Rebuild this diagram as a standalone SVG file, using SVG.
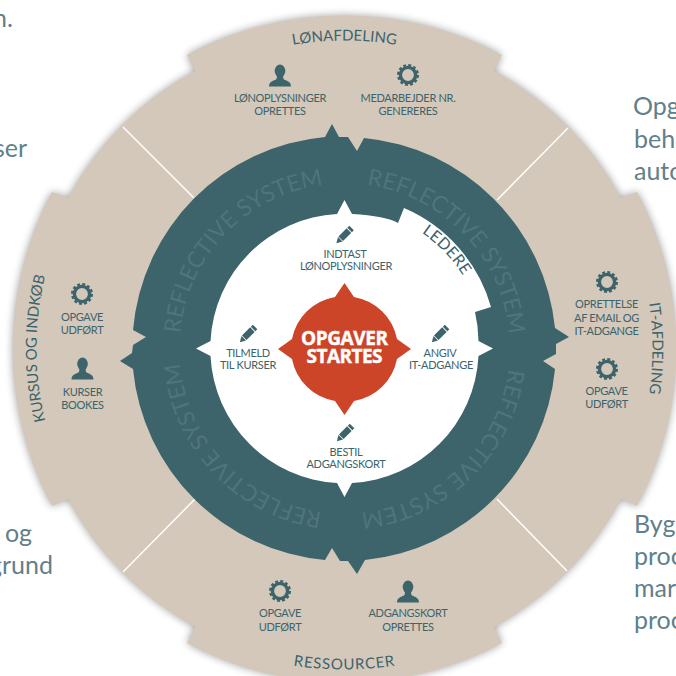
<svg xmlns="http://www.w3.org/2000/svg" width="676" height="676" viewBox="0 0 676 676">
<defs>
<style>
.bg{font:25px Lato,"Open Sans",sans-serif;fill:#62808a}
.l{font:11px Lato,"Open Sans",sans-serif;fill:#3d636b;text-anchor:middle;letter-spacing:-.3px}
.c{font:15px Lato,"Open Sans",sans-serif;fill:#3d636b;text-anchor:middle}
.r{font:23px Lato,"Open Sans",sans-serif;fill:#4f747c;text-anchor:middle}
.o{font:bold 19px "Open Sans",sans-serif;fill:#fff;stroke:#fff;stroke-width:.4;text-anchor:middle}
.ln{stroke:#fff;stroke-width:1.5;fill:none}
</style>
<filter id="sh" x="-10%" y="-10%" width="120%" height="120%"><feGaussianBlur stdDeviation="4.500"/></filter>
<path id="cw308" d="M344.500 656.500A308 308 0 1 1 344.510 656.500"/>
<path id="cw165" d="M344.500 183.500A165 165 0 1 1 344.490 183.500"/>
<path id="cw139" d="M344.500 209.500A139 139 0 1 1 344.490 209.500"/>
<path id="ccw321" d="M344.500 27.500A321 321 0 1 0 344.510 27.500"/>
<g id="gear" fill="none" stroke="#3d636b"><circle r="7.600" stroke-width="3.400"/><circle r="9.800" stroke-width="2.400" stroke-dasharray="2.900 2.230"/></g>
<g id="person" fill="#3d636b"><ellipse cx="0" cy="-5" rx="5.300" ry="6.500"/><path d="M-3 0L3 0L3.500 3C6 5 11 5 11 10.500L-11 10.500C-11 5 -6 5 -3.500 3Z"/></g>
<g id="pencil" fill="#3d636b" transform="rotate(45)"><rect x="-3.200" y="-10" width="6.400" height="2.800"/><rect x="-3.200" y="-6.200" width="6.400" height="11.500"/><path d="M-3.200 6L3.200 6L0 11.500Z"/></g>
</defs>
<g id="background-text">
<text x="-7" y="27" class="bg">n.</text>
<text x="-6" y="157" class="bg">ser</text>
<text x="633" y="115" class="bg">Opg</text><text x="634" y="148" class="bg">beh</text><text x="634" y="180" class="bg">auto</text>
<text x="634" y="533" class="bg">Byg</text><text x="634" y="565" class="bg">proc</text><text x="634" y="597" class="bg">mar</text><text x="634" y="629" class="bg">proc</text>
<text x="5" y="542" class="bg">og</text><text x="-11" y="574" class="bg">grund</text>
</g>
<g id="beige-ring">
<path d="M187 55A333 333 0 0 1 502 55L494 71A314 314 0 0 1 621 198L637 192A333 333 0 0 1 637 506L621 499A314 314 0 0 1 494 627L502 643A333 333 0 0 1 187 643L195 627A314 314 0 0 1 68 499L52 506A333 333 0 0 1 52 192L68 198A314 314 0 0 1 195 71Z" fill="#000" opacity=".38" filter="url(#sh)"/>
<path d="M187 55A333 333 0 0 1 502 55L494 71A314 314 0 0 1 621 198L637 192A333 333 0 0 1 637 506L621 499A314 314 0 0 1 494 627L502 643A333 333 0 0 1 187 643L195 627A314 314 0 0 1 68 499L52 506A333 333 0 0 1 52 192L68 198A314 314 0 0 1 195 71Z" fill="#d3c8ba"/>
</g>
<g id="connectors">
<path class="ln" d="M497 200L568 128M194 198L123 127M195 499L123 572M497 499L567 571"/>
</g>
<g id="teal-ring">
<path fill="#3d636b" d="M325 137L332 124L339 137L348 137L357 151L364 138A212 212 0 0 1 555 328L569 337L556 344L556 354L543 361L555 369A212 212 0 0 1 365 560L357 574L348 561L340 561L332 548L325 560A212 212 0 0 1 133 369L120 361L132 353L133 345L146 337L133 330A212 212 0 0 1 325 137Z"/>
<text class="r"><textPath href="#cw165" startOffset="87.2%">REFLECTIVE SYSTEM</textPath></text>
<text class="r"><textPath href="#cw165" startOffset="12.9%">REFLECTIVE SYSTEM</textPath></text>
<text class="r"><textPath href="#cw165" startOffset="37.7%">REFLECTIVE SYSTEM</textPath></text>
<text class="r"><textPath href="#cw165" startOffset="62.9%">REFLECTIVE SYSTEM</textPath></text>
</g>
<g id="inner-white">
<path fill="#fff" d="M337 214L344.500 200L352 214Q386 216 398 223L404 208A153 153 0 0 1 491 307L475 312A134 134 0 0 1 478.500 341L493 348.500L478.500 356A134 134 0 0 1 352 483L344.500 497L337 483A134 134 0 0 1 210.500 356L196 348.500L210.500 341A134 134 0 0 1 337 214Z"/>
<text class="c" style="font-size:16px" letter-spacing=".3"><textPath href="#cw139" startOffset="12.8%">LEDERE</textPath></text>
</g>
<g id="center">
<path fill="#cd4528" d="M335 297L344.500 283L354 297A52.500 52.500 0 0 1 397 339L411 349L397 359A52.500 52.500 0 0 1 354 401L344.500 415L335 401A52.500 52.500 0 0 1 292 359L278 349L292 339A52.500 52.500 0 0 1 335 297Z"/>
<text class="o" x="344.500" y="345" textLength="87">OPGAVER</text>
<text class="o" x="344.500" y="363" textLength="76">STARTES</text>
</g>
<g id="node-indtast"><use href="#pencil" x="344.500" y="235"/><text class="l" x="345" y="257.500">INDTAST</text><text class="l" x="346" y="269.500">LØNOPLYSNINGER</text></g>
<g id="node-tilmeld"><use href="#pencil" x="248" y="334"/><text class="l" x="248" y="356.500">TILMELD</text><text class="l" x="248" y="369">TIL KURSER</text></g>
<g id="node-angiv"><use href="#pencil" x="440" y="334"/><text class="l" x="440" y="356.500">ANGIV</text><text class="l" x="441" y="369">IT-ADGANGE</text></g>
<g id="node-bestil"><use href="#pencil" x="345" y="433"/><text class="l" x="346" y="455.500">BESTIL</text><text class="l" x="346" y="468">ADGANGSKORT</text></g>
<g id="node-lonoplysninger"><use href="#person" x="280" y="76"/><text class="l" x="280" y="102">LØNOPLYSNINGER</text><text class="l" x="280" y="115">OPRETTES</text></g>
<g id="node-medarbejder"><use href="#gear" x="408" y="75"/><text class="l" x="408" y="102">MEDARBEJDER NR.</text><text class="l" x="408" y="115">GENERERES</text></g>
<g id="node-oprettelse"><use href="#gear" x="607" y="282"/><text class="l" x="606.500" y="308">OPRETTELSE</text><text class="l" x="606.500" y="322">AF EMAIL OG</text><text class="l" x="606.500" y="335">IT-ADGANGE</text></g>
<g id="node-opgave-it"><use href="#gear" x="607" y="369"/><text class="l" x="606.500" y="395">OPGAVE</text><text class="l" x="606.500" y="408">UDFØRT</text></g>
<g id="node-opgave-kursus"><use href="#gear" x="82" y="294"/><text class="l" x="82" y="321">OPGAVE</text><text class="l" x="82" y="334">UDFØRT</text></g>
<g id="node-kurser"><use href="#person" x="82.500" y="369"/><text class="l" x="82.500" y="396">KURSER</text><text class="l" x="82.500" y="409">BOOKES</text></g>
<g id="node-opgave-res"><use href="#gear" x="280" y="591"/><text class="l" x="280" y="617">OPGAVE</text><text class="l" x="280" y="631">UDFØRT</text></g>
<g id="node-adgangskort"><use href="#person" x="408" y="592"/><text class="l" x="408" y="617">ADGANGSKORT</text><text class="l" x="408" y="631">OPRETTES</text></g>
<g id="departments">
<text class="c"><textPath href="#cw308" startOffset="50%">LØNAFDELING</textPath></text>
<text class="c"><textPath href="#cw308" startOffset="75%">IT-AFDELING</textPath></text>
<text class="c"><textPath href="#cw308" startOffset="25%">KURSUS OG INDKØB</textPath></text>
<text class="c" letter-spacing=".8"><textPath href="#ccw321" startOffset="50%">RESSOURCER</textPath></text>
</g>
</svg>
